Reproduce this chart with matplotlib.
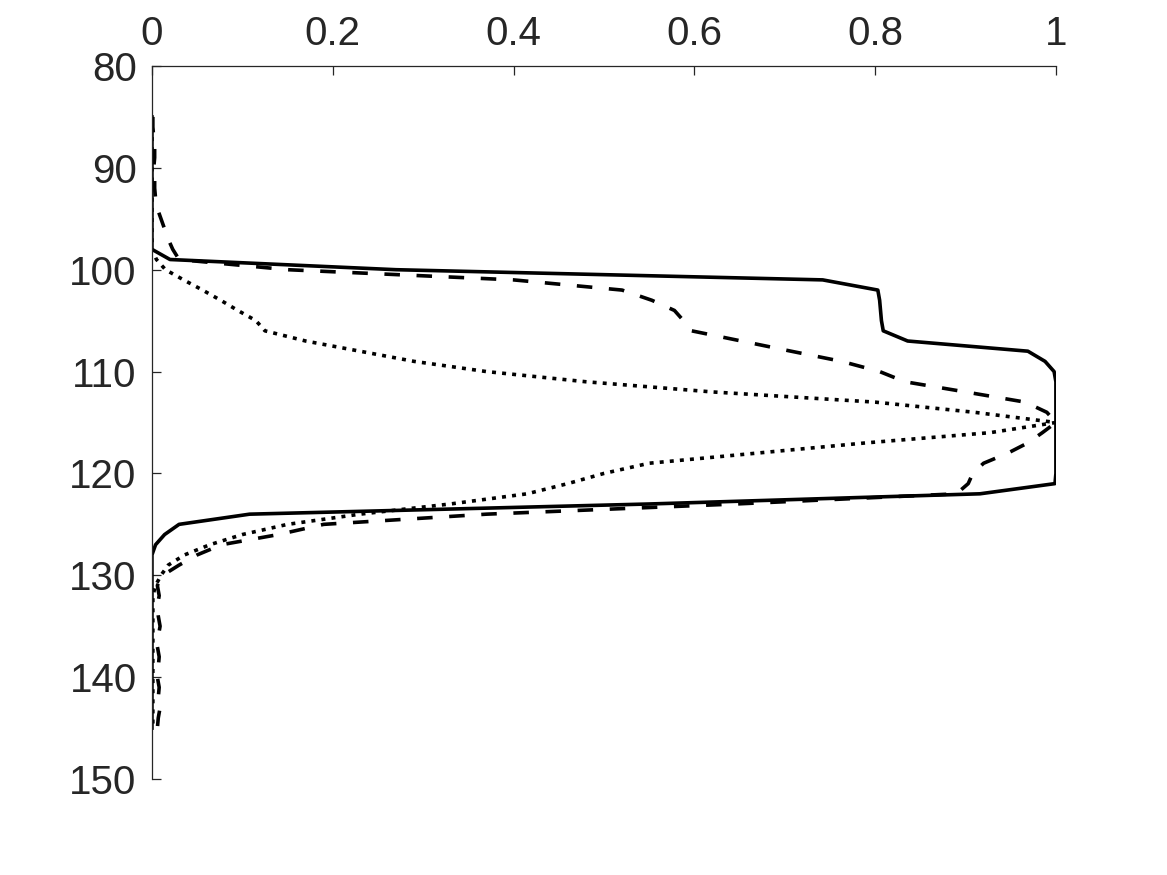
import numpy as np
import matplotlib
matplotlib.use("Agg")
import matplotlib.pyplot as plt

depth = list(range(85, 146))

solid = [0.0] * 14 + [
    0.02, 0.27, 0.742, 0.803, 0.805, 0.806, 0.807, 0.809, 0.836, 0.969,
    0.988, 0.998, 1.0, 1.0, 1.0, 1.0, 1.0, 1.0, 1.0, 1.0, 1.0, 1.0,
    0.999, 0.916, 0.55, 0.108, 0.03, 0.014, 0.004] + [0.0] * 18

dashed = [0.001, 0.001, 0.002, 0.003, 0.003, 0.002, 0.003, 0.003, 0.004, 0.006,
          0.010, 0.014, 0.018, 0.023, 0.03, 0.15, 0.40, 0.52, 0.553, 0.578,
          0.588, 0.597, 0.652, 0.707, 0.763, 0.805, 0.833, 0.90, 0.966, 0.99,
          1.0, 0.985, 0.969, 0.947, 0.92, 0.908, 0.903, 0.89, 0.646, 0.37,
          0.19, 0.14, 0.077, 0.05, 0.03, 0.012, 0.006,
          0.008, 0.006, 0.007, 0.009, 0.007, 0.006, 0.008, 0.007, 0.006, 0.008,
          0.007, 0.009, 0.007, 0.006]

dotted = [0.0] * 14 + [
    0.005, 0.015, 0.035, 0.056, 0.076, 0.095, 0.115, 0.125, 0.17, 0.23,
    0.29, 0.37, 0.48, 0.62, 0.80, 0.91, 1.0, 0.927, 0.79, 0.67,
    0.55, 0.50, 0.46, 0.415, 0.33, 0.23, 0.15, 0.10, 0.064, 0.036,
    0.018, 0.01, 0.004] + [0.001] * 14

xticks = [0, 0.2, 0.4, 0.6, 0.8, 1]
xtick_labels = ["0", "0.2", "0.4", "0.6", "0.8", "1"]
yticks = [80, 90, 100, 110, 120, 130, 140, 150]

plt.rcParams['font.family'] = ['Liberation Sans', 'DejaVu Sans']
text_col = '#262626'

fig = plt.figure(figsize=(11.67, 8.75), dpi=100)
ax = fig.add_axes([0.1302, 0.1097, 0.7746, 0.8149])

lw = 2.6
ax.plot(solid, depth, color='black', lw=lw, linestyle='-', solid_joinstyle='round')
ax.plot(dashed, depth, color='black', lw=lw, linestyle=(0, (4.3, 4.6)), dash_capstyle='butt')
ax.plot(dotted, depth, color='black', lw=lw, linestyle=(0, (1.1, 1.7)), dash_capstyle='butt')

ax.set_xlim(0, 1)
ax.set_ylim(150, 80)
ax.xaxis.tick_top()
ax.set_xticks(xticks)
ax.set_xticklabels(xtick_labels)
ax.set_yticks(yticks)

for side in ['right', 'bottom']:
    ax.spines[side].set_visible(False)
for side in ['left', 'top']:
    ax.spines[side].set_color(text_col)
    ax.spines[side].set_linewidth(0.9)

ax.tick_params(axis='both', direction='in', length=6.5, width=0.9,
               colors=text_col, labelsize=29, labelcolor=text_col)
ax.tick_params(axis='x', pad=9)
ax.tick_params(axis='y', pad=11)

fig.savefig('out.png', dpi=100, facecolor='white')
